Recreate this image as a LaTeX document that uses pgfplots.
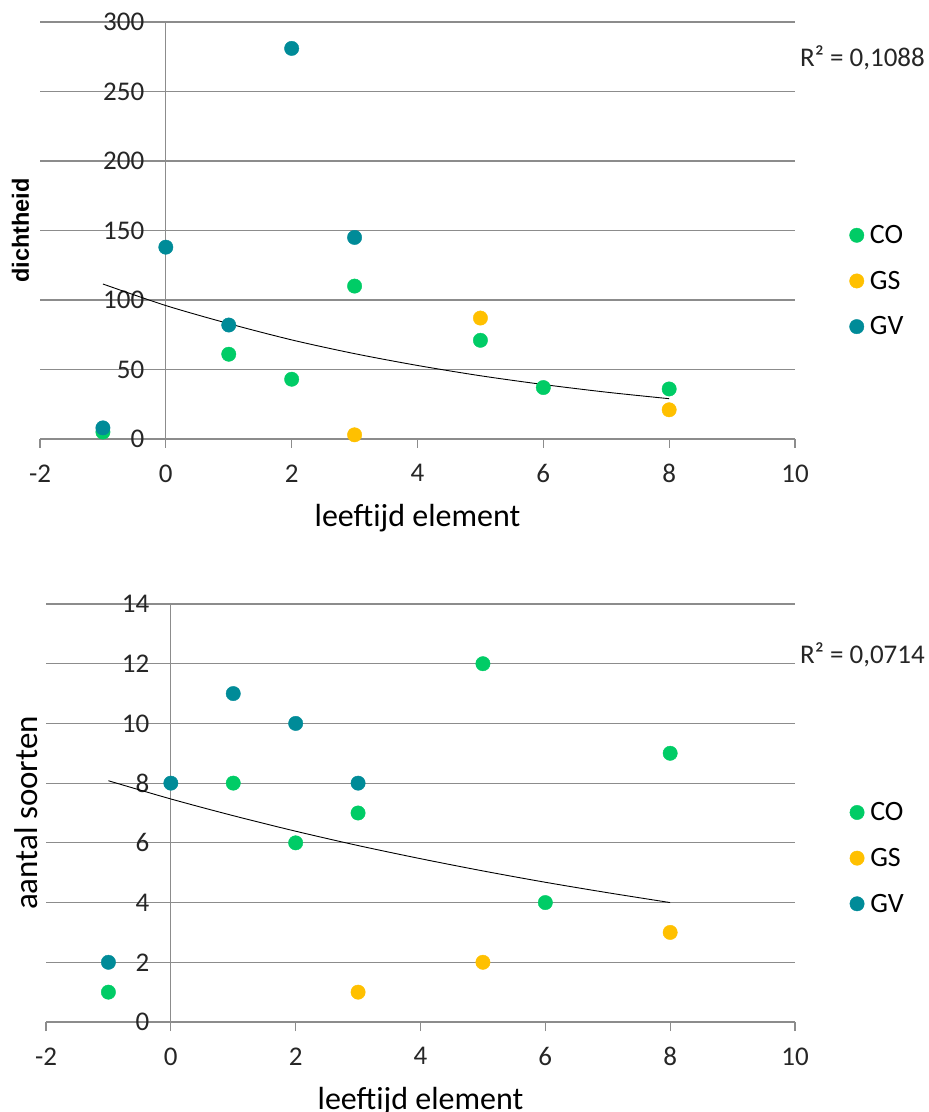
\documentclass[border=0pt]{standalone}
\usepackage{pgfplots}
\pgfplotsset{compat=1.18}
\usepackage{fontspec}
\setmainfont{Carlito}
\newfontfamily\arialfont{Liberation Sans}
\definecolor{cCO}{RGB}{0,204,102}
\definecolor{cGS}{RGB}{255,192,0}
\definecolor{cGV}{RGB}{0,139,152}
\definecolor{gridgray}{RGB}{140,140,140}
\pgfplotsset{
  excelstyle/.style={
    scale only axis,
    axis x line=bottom, axis y line=middle,
    axis line style={gridgray, line width=1.1pt, -},
    hide obscured x ticks=false, hide obscured y ticks=false,
    xmin=-2, xmax=10, xtick={-2,0,...,10},
    ymajorgrids, grid style={gridgray, line width=1.1pt},
    tick align=outside,
    major tick length=9pt,
    x tick style={gridgray, line width=1.1pt},
    y tick style={draw=none},
    tick label style={font=\fontsize{27}{32}\selectfont, text=black!85},
    x tick label style={yshift=-13pt},
    y tick label style={xshift=-9pt},
    /pgf/number format/assume math mode=true,
    clip=false,
    legend style={draw=none, fill=none, font=\fontsize{28}{32}\selectfont,
      row sep=22pt, anchor=west, inner sep=0pt,
      nodes={inner xsep=6pt}},
    legend cell align=left,
    every axis x label/.style={at={(axis description cs:0.5,-0.19)}, anchor=center,
      font=\fontsize{32}{38}\selectfont},
  },
  trend/.style={black, line width=0.9pt, smooth, no marks, forget plot},
}
\begin{document}
\begin{tikzpicture}
\useasboundingbox (0,0) rectangle (929pt,1112pt);
% ---------------- top chart ----------------
\begin{axis}[excelstyle,
  at={(40pt,673pt)}, anchor=south west, width=755pt, height=417pt,
  ymin=0, ymax=300, ytick={0,50,...,300},
  xlabel={leeftijd element},
  every axis y label/.style={at={(axis description cs:-0.026,0.5)}, rotate=90, anchor=center,
    font=\arialfont\bfseries\fontsize{23.5}{28}\selectfont},
  ylabel={dichtheid},
  legend style={at={(axis description cs:1.072,0.379)}},
]
\addplot[only marks, mark=*, mark size=7.2pt, color=cCO] coordinates {
  (-1,5) (1,61) (2,43) (3,110) (5,71) (6,37) (8,36)};
\addlegendentry{CO}
\addplot[only marks, mark=*, mark size=7.2pt, color=cGS] coordinates {
  (3,3) (5,87) (8,21)};
\addlegendentry{GS}
\addplot[only marks, mark=*, mark size=7.2pt, color=cGV] coordinates {
  (-1,8) (0,138) (1,82) (2,281) (3,145)};
\addlegendentry{GV}
\addplot[trend] coordinates {
  (-1,111.5) (0,96) (1,83) (2,71.3) (3,61.4) (4,52.9) (5,45.5) (6,39.2) (7,33.7) (8,29)};
\node[anchor=base west, font=\fontsize{27}{32}\selectfont, text=black!85, inner sep=0pt] at (axis cs:10.08,268) {R² = 0,1088};
\end{axis}
% ---------------- bottom chart ----------------
\begin{axis}[excelstyle,
  at={(46pt,90pt)}, anchor=south west, width=749pt, height=418pt,
  ymin=0, ymax=14, ytick={0,2,...,14},
  xlabel={leeftijd element},
  every axis y label/.style={at={(axis description cs:-0.026,0.5)}, rotate=90, anchor=center,
    font=\fontsize{33}{38}\selectfont},
  ylabel={aantal soorten},
  legend style={at={(axis description cs:1.073,0.392)}},
]
\addplot[only marks, mark=*, mark size=7.2pt, color=cCO] coordinates {
  (-1,1) (1,8) (2,6) (3,7) (5,12) (6,4) (8,9)};
\addlegendentry{CO}
\addplot[only marks, mark=*, mark size=7.2pt, color=cGS] coordinates {
  (3,1) (5,2) (8,3)};
\addlegendentry{GS}
\addplot[only marks, mark=*, mark size=7.2pt, color=cGV] coordinates {
  (-1,2) (0,8) (1,11) (2,10) (3,8)};
\addlegendentry{GV}
\addplot[trend] coordinates {
  (-1,8.08) (0,7.47) (1,6.91) (2,6.39) (3,5.91) (4,5.47) (5,5.06) (6,4.68) (7,4.33) (8,4.0)};
\node[anchor=base west, font=\fontsize{27}{32}\selectfont, text=black!85, inner sep=0pt] at (axis cs:10.08,12) {R² = 0,0714};
\end{axis}
\end{tikzpicture}
\end{document}
